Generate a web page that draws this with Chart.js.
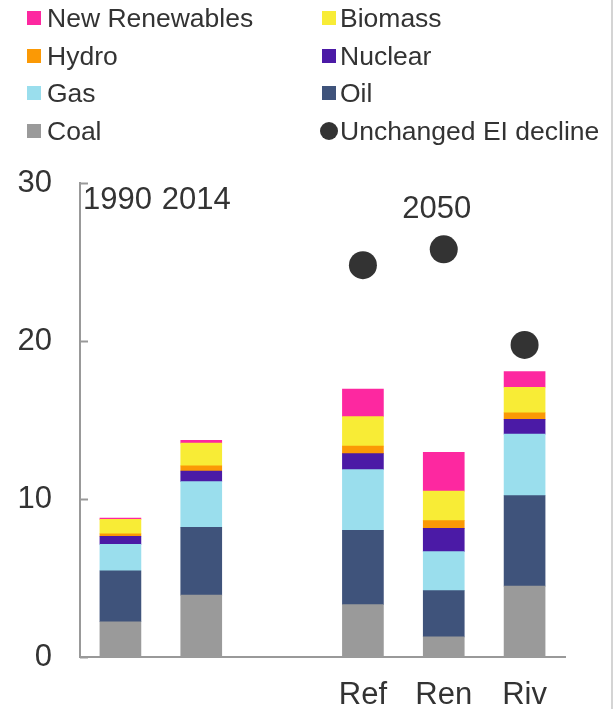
<!DOCTYPE html>
<html>
<head>
<meta charset="utf-8">
<script src="https://cdn.jsdelivr.net/npm/chart.js@4/dist/chart.umd.min.js"></script>
<style>
  html, body { margin: 0; padding: 0; background: #fff; }
  #wrap { position: relative; width: 614px; height: 709px; overflow: hidden; }
  #edge { position: absolute; left: 611px; top: 0; width: 2px; height: 709px; background: #d4d4d4; }
  #legend { position: absolute; left: 0; top: 0; width: 614px; height: 160px;
            font: 26.5px "Liberation Sans", Arial, sans-serif; color: #333; }
  .item { position: absolute; height: 30px; line-height: 30px; white-space: nowrap; }
  .box { position: absolute; top: 8px; width: 14px; height: 14px; }
  .dot { position: absolute; top: 6px; width: 18px; height: 18px; border-radius: 50%; }
  .label { position: absolute; left: 20px; top: 0; }
</style>
</head>
<body>
<div id="wrap">
  <canvas id="chart" width="614" height="709"></canvas>
  <div id="legend"></div>
  <div id="edge"></div>
</div>
<script>
    "use strict";

    // x categories (third one is the empty gap before the 2050 scenarios)
    const categories = ['1990', '2014', '', 'Ref', 'Ren', 'Riv'];
    const yTicks = [0, 10, 20, 30];

    // stacked bottom to top
    const coal = [2.23, 3.92, null, 3.31, 1.27, 4.49];
    const oil = [3.23, 4.28, null, 4.71, 2.93, 5.72];
    const gas = [1.67, 2.90, null, 3.84, 2.47, 3.90];
    const nuclear = [0.51, 0.67, null, 1.01, 1.47, 0.93];
    const hydro = [0.16, 0.33, null, 0.48, 0.49, 0.42];
    const biomass = [0.91, 1.44, null, 1.86, 1.87, 1.61];
    const newRenewables = [0.09, 0.17, null, 1.75, 2.46, 0.99];
    const unchangedEI = [null, null, null, 24.8, 25.8, 19.75];

    const barSeries = [
        { label: 'Coal', data: coal, color: '#9a9a9a' },
        { label: 'Oil', data: oil, color: '#3f537b' },
        { label: 'Gas', data: gas, color: '#9adeed' },
        { label: 'Nuclear', data: nuclear, color: '#4b1aa6' },
        { label: 'Hydro', data: hydro, color: '#fb9905' },
        { label: 'Biomass', data: biomass, color: '#f8ec36' },
        { label: 'New Renewables', data: newRenewables, color: '#fd28a0' }
    ];

    const datasets = barSeries.map(s => ({
        type: 'bar',
        label: s.label,
        data: s.data,
        backgroundColor: s.color,
        borderWidth: 0,
        barThickness: 41,
        stack: 'energy'
    }));
    datasets.push({
        type: 'line',
        label: 'Unchanged EI decline',
        data: unchangedEI,
        showLine: false,
        pointRadius: 14,
        pointHoverRadius: 14,
        pointBackgroundColor: '#333333',
        pointBorderWidth: 0,
        stack: 'ei'
    });

    // legend, two columns
    const legendOrder = ['New Renewables', 'Biomass', 'Hydro', 'Nuclear', 'Gas', 'Oil', 'Coal', 'Unchanged EI decline'];
    const legend = document.getElementById('legend');
    legendOrder.forEach((name, i) => {
        const col = i % 2, row = Math.floor(i / 2);
        const item = document.createElement('div');
        item.className = 'item';
        item.style.left = (col === 0 ? 27 : 320) + 'px';
        item.style.top = (3 + row * 37.7) + 'px';
        const s = barSeries.find(b => b.label === name);
        const mark = document.createElement('div');
        if (s) {
            mark.className = 'box';
            mark.style.background = s.color;
            mark.style.left = (col === 0 ? 0 : 2) + 'px';
        } else {
            mark.className = 'dot';
            mark.style.background = '#333333';
            mark.style.left = '0px';
        }
        const txt = document.createElement('span');
        txt.className = 'label';
        txt.textContent = name;
        item.appendChild(mark);
        item.appendChild(txt);
        legend.appendChild(item);
    });

    const groupLabels = {
        id: 'groupLabels',
        afterDatasetsDraw(chart) {
            const { ctx, scales: { x, y } } = chart;
            ctx.save();
            ctx.fillStyle = '#333333';
            ctx.font = '31px "Liberation Sans", Arial, sans-serif';
            ctx.textAlign = 'center';
            ctx.textBaseline = 'middle';
            ctx.fillText('1990', x.getPixelForValue(0) - 3, y.getPixelForValue(28.9));
            ctx.fillText('2014', x.getPixelForValue(1) - 5, y.getPixelForValue(28.9));
            ctx.fillText('2050', x.getPixelForValue(4) - 7, y.getPixelForValue(28.3));
            // small inward ticks on the y axis
            ctx.strokeStyle = '#999999';
            ctx.lineWidth = 2;
            yTicks.forEach(v => {
                const py = Math.round(y.getPixelForValue(v)) + 0.5;
                ctx.beginPath();
                ctx.moveTo(chart.chartArea.left, py);
                ctx.lineTo(chart.chartArea.left + 8, py);
                ctx.stroke();
            });
            ctx.restore();
        }
    };

    new Chart(document.getElementById('chart').getContext('2d'), {
        data: { labels: categories, datasets: datasets },
        plugins: [groupLabels],
        options: {
            responsive: false,
            animation: false,
            layout: { padding: { left: 0, right: 49, top: 183, bottom: 0 } },
            plugins: { legend: { display: false }, tooltip: { enabled: false } },
            scales: {
                x: {
                    stacked: true,
                    grid: { display: false, drawTicks: false },
                    border: { display: true, color: '#999999', width: 2 },
                    ticks: {
                        color: '#333333',
                        padding: 20,
                        font: { size: 31, family: '"Liberation Sans", Arial, sans-serif' },
                        callback: (v, i) => (i >= 3 ? categories[i] : '')
                    },
                    afterFit: s => { s.height = 52; }
                },
                y: {
                    stacked: true,
                    min: 0,
                    max: 30,
                    grid: { display: false, drawTicks: false },
                    border: { display: true, color: '#999999', width: 2 },
                    ticks: {
                        stepSize: 10,
                        color: '#333333',
                        padding: 28,
                        font: { size: 31, family: '"Liberation Sans", Arial, sans-serif' }
                    },
                    afterFit: s => { s.width = 80; }
                }
            }
        }
    });
</script>
</body>
</html>
